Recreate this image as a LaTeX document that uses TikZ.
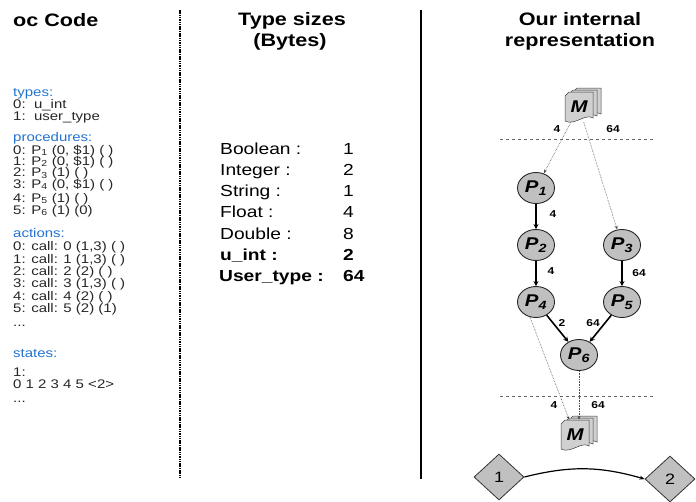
\documentclass[tikz,border=0pt]{standalone}
\usepackage{fontspec}
\setmainfont{Liberation Sans}[FakeStretch=1.2]
\usetikzlibrary{shapes.geometric,arrows.meta}
\definecolor{codeblue}{RGB}{35,115,210}
\definecolor{nodegray}{RGB}{192,192,192}
\definecolor{sheetgray}{RGB}{208,208,208}
\tikzset{
  docstack/.pic={
    \foreach \d in {8,4,0}
      \filldraw[fill=sheetgray,draw=black!75,line width=0.5pt,shift={(\d,-\d/2)}]
        (-14,-11) -- (-10,-15) -- (14,-15) -- (14,11) .. controls (6,6) and (-4,19) .. (-14,14) -- cycle;
  }
}
\begin{document}
\begin{tikzpicture}[x=1pt,y=-1pt,
    title/.style={font=\fontsize{18}{18}\selectfont\bfseries,inner sep=0pt,anchor=base},
    code/.style={font=\fontsize{12.5}{12.5}\selectfont,text=black!85,inner sep=0pt,anchor=base west},
    head/.style={code,text=codeblue},
    size/.style={font=\fontsize{16}{16}\selectfont,inner sep=0pt,anchor=base west},
    pnode/.style={ellipse,draw=black!85,fill=nodegray,line width=0.9pt,minimum width=37pt,minimum height=31pt,inner sep=0pt,font=\fontsize{17}{17}\selectfont\bfseries\itshape},
    docM/.style={minimum width=28pt,minimum height=30pt,inner sep=0pt,font=\fontsize{17}{17}\selectfont\bfseries\itshape},
    state/.style={diamond,draw=black!80,fill=nodegray,line width=0.8pt,minimum width=50pt,minimum height=46pt,inner sep=0pt,font=\fontsize{15}{15}\selectfont},
    wt/.style={font=\fontsize{10}{10}\selectfont\bfseries,inner sep=0pt},
    flow/.style={-{Stealth[length=5pt,width=5pt]},line width=1.6pt},
    link/.style={-{Stealth[length=4pt,width=3pt]},densely dotted,line width=0.6pt,draw=black!70},
    sep/.style={dash pattern=on 3pt off 3pt,line width=0.6pt,draw=black!60}]
  \useasboundingbox (0,0) rectangle (696,501);

  % column dividers
  \draw[line width=1.4pt,dash pattern=on 1.5pt off 0.8pt] (180,10) -- (180,479);
  \draw[line width=1.5pt] (421,10) -- (421,479);

  % titles
  \node[title,anchor=base west] (code) at (13,26) {oc Code};
  \node[title] (sizes1) at (292,25.5) {Type sizes};
  \node[title] (sizes2) at (290,46.5) {(Bytes)};
  \node[title] (repr1) at (580,25.5) {Our internal};
  \node[title] (repr2) at (580,46.5) {representation};

  % code listing
  \node[head] (types) at (13,96) {types:};
  \node[code] (type0) at (13,108) {0:\ \ u\_int};
  \node[code] (type1) at (13,120) {1:\ \ user\_type};

  \node[head] (procs) at (13,141) {procedures:};
  \foreach \y/\t [count=\i from 0] in {154/{P\textsubscript{1} (0, \$1) ( )},165/{P\textsubscript{2} (0, \$1) ( )},
      176.5/{P\textsubscript{3} (1) ( )},188/{P\textsubscript{4} (0, \$1) ( )},202/{P\textsubscript{5} (1) ( )},214/{P\textsubscript{6} (1) (0)}}
    \node[code] (proc\i) at (13,\y) {\i: \t};

  \node[head] (acts) at (13,237.5) {actions:};
  \foreach \t [count=\i from 0] in {{0 (1,3) ( )},{1 (1,3) ( )},{2 (2) ( )},{3 (1,3) ( )},{4 (2) ( )},{5 (2) (1)}}
    \node[code] (act\i) at (13,250.7+12.4*\i) {\i: call: \t};
  \node[code] (actmore) at (13,326) {...};

  \node[head] (states) at (13,357.5) {states:};
  \node[code] (st1) at (13,376) {1:};
  \node[code] (st1seq) at (13,388) {0 1 2 3 4 5 <2>};
  \node[code] (stmore) at (13,402) {...};

  % type sizes
  \foreach \n/\v [count=\i from 0] in {Boolean/1,Integer/2,String/1,Float/4,Double/8}{
    \node[size] (tn\i) at (220,154+21.3*\i) {\n{} :};
    \node[size] (tv\i) at (343,154+21.3*\i) {\v};
  }
  \node[size,font=\fontsize{16}{16}\selectfont\bfseries] (tn5) at (220,260.5) {u\_int :};
  \node[size,font=\fontsize{16}{16}\selectfont\bfseries] (tv5) at (343,260.5) {2};
  \node[size,font=\fontsize{16}{16}\selectfont\bfseries] (tn6) at (219,281.8) {User\_type :};
  \node[size,font=\fontsize{16}{16}\selectfont\bfseries] (tv6) at (343,281.8) {64};

  % internal representation
  \draw[sep] (500,139) -- (655,139);
  \draw[sep] (500,396) -- (655,396);

  \coordinate (mtop) at (579,107);
  \pic at (mtop) {docstack};
  \node[docM] (Mtop) at (mtop) {M};
  \coordinate (mbot) at (575,435);
  \pic at (mbot) {docstack};
  \node[docM] (Mbot) at (mbot) {M};

  \node[pnode] (P1) at (536,188) {P\textsubscript{1}};
  \node[pnode] (P2) at (536,245) {P\textsubscript{2}};
  \node[pnode] (P3) at (622,245) {P\textsubscript{3}};
  \node[pnode] (P4) at (536,302) {P\textsubscript{4}};
  \node[pnode] (P5) at (622,302) {P\textsubscript{5}};
  \node[pnode] (P6) at (579,355) {P\textsubscript{6}};

  \draw[link] (Mtop) to (P1);
  \draw[link] (Mtop) to (P3);
  \draw[flow] (P1) to (P2);
  \draw[flow] (P2) to (P4);
  \draw[flow] (P3) to (P5);
  \draw[flow] (P4) to (P6);
  \draw[flow] (P5) to (P6);
  \draw[link] (P4.-112) to (Mbot);
  \draw[link] (P6.south) to (P6.south |- Mbot.north);

  \node[wt] (wtop1) at (557,129) {4};
  \node[wt] (wtop2) at (613,129) {64};
  \node[wt] (w12) at (553,214) {4};
  \node[wt] (w24) at (551,271) {4};
  \node[wt] (w35) at (639,273) {64};
  \node[wt] (w46) at (562,323) {2};
  \node[wt] (w56) at (593,323) {64};
  \node[wt] (wbot1) at (554,405) {4};
  \node[wt] (wbot2) at (598,405) {64};

  \node[state] (S1) at (499,477) {1};
  \node[state] (S2) at (670,479) {2};
  \draw[-{Stealth[length=5pt,width=4pt]},line width=1.2pt] (S1.east) to[bend left=15] (S2.west);
\end{tikzpicture}
\end{document}
